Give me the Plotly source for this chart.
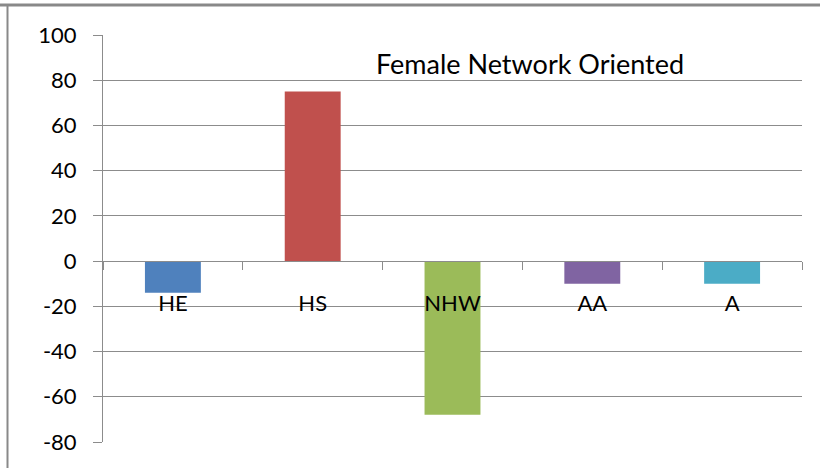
import plotly.graph_objects as go

categories = ["HE", "HS", "NHW", "AA", "A"]
values = [-14, 75, -68, -10, -10]
colors = ["#4F81BD", "#C0504D", "#9BBB59", "#8064A2", "#4BACC6"]
y_ticks = [-80, -60, -40, -20, 0, 20, 40, 60, 80, 100]
y_tick_labels = [str(v) for v in y_ticks]
title_text = "Female Network Oriented"

W, H = 820, 468
L, R, T, B = 103, 18, 35, 26
PW, PH = W - L - R, H - T - B
GRID = "#8c8c8c"
FONT = "Lato"

def px(xp):
    return (xp - L) / PW

def py(yp):
    return (H - B - yp) / PH

fig = go.Figure()
fig.add_trace(go.Bar(x=categories, y=values, marker=dict(color=colors, line=dict(width=0)),
                     showlegend=False, hoverinfo="x+y"))

ymin, ymax = y_ticks[0], y_ticks[-1]
fig.update_layout(
    width=W, height=H,
    margin=dict(l=L, r=R, t=T, b=B, pad=0),
    paper_bgcolor="white", plot_bgcolor="white",
    bargap=0.6,
    font=dict(family=FONT, size=22, color="black"),
    xaxis=dict(
        type="category", range=[-0.5, len(categories) - 0.5],
        anchor="free", position=(0 - ymin) / (ymax - ymin),
        showline=True, linecolor=GRID, linewidth=1,
        ticks="outside", ticklen=8, tickcolor=GRID, tickwidth=1,
        tickson="boundaries", showgrid=False, zeroline=False,
        tickfont=dict(family=FONT, size=22, color="black"),
        ticklabelstandoff=22,
    ),
    yaxis=dict(
        range=[ymin, ymax], tickvals=y_ticks, ticktext=y_tick_labels,
        showgrid=True, gridcolor=GRID, gridwidth=1,
        zeroline=False, showline=True, linecolor=GRID, linewidth=1,
        ticks="outside", ticklen=9, tickcolor=GRID, tickwidth=1,
        tickfont=dict(family=FONT, size=22, color="black"),
        ticklabelstandoff=12,
    ),
    annotations=[dict(text=title_text, xref="paper", yref="paper",
                      x=px(529.5), y=py(64), xanchor="center", yanchor="middle",
                      showarrow=False, font=dict(family=FONT, size=27, color="black"))],
    shapes=[
        dict(type="line", xref="paper", yref="paper", x0=px(0), x1=px(W), y0=py(5), y1=py(5),
             line=dict(color="#898989", width=3)),
        dict(type="line", xref="paper", yref="paper", x0=px(7.5), x1=px(7.5), y0=py(5), y1=py(H),
             line=dict(color="#898989", width=2)),
    ],
)

fig.write_html("out.html", config={"displayModeBar": False},
               post_script="document.body.style.margin='0';document.body.style.overflow='hidden';")
